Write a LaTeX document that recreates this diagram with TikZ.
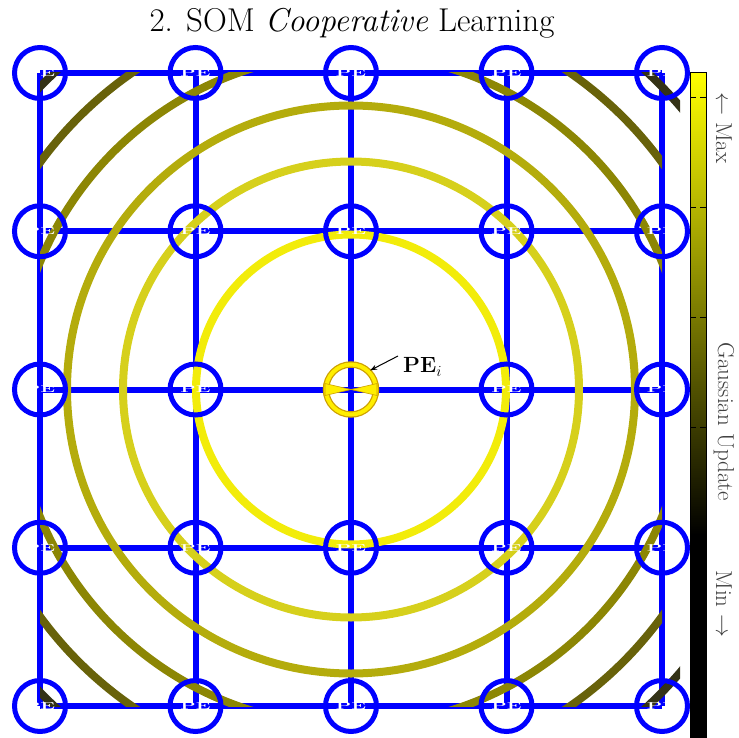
\RequirePackage{fix-cm}
\documentclass[tikz,border=0pt]{standalone}
\usetikzlibrary{arrows.meta}
\definecolor{gridblue}{RGB}{0,0,255}
\definecolor{ringA}{RGB}{242,236,10}
\definecolor{ringB}{RGB}{214,208,28}
\definecolor{ringC}{RGB}{180,172,12}
\definecolor{ringD}{RGB}{140,134,4}
\definecolor{ringE}{RGB}{104,98,10}
\definecolor{ringF}{RGB}{52,50,22}
\definecolor{peyellow}{RGB}{255,238,0}
\definecolor{pegold}{RGB}{205,160,0}
\begin{document}
\begin{tikzpicture}[x=1pt,y=-1pt,
  gridline/.style={draw=gridblue,line width=6pt},
  pecircle/.style={circle,draw=gridblue,line width=5pt,minimum size=51pt,inner sep=0pt},
  petext/.style={text=white,font=\bfseries\fontsize{20}{20}\selectfont,yscale=0.5,inner sep=0pt},
  ring/.style={line width=8pt},
  cblabel/.style={rotate=-90,font=\fontsize{23}{25}\selectfont,text=black!75,inner sep=0pt}]
\useasboundingbox (0,0) rectangle (739,738);
% title
\node[anchor=base,font=\fontsize{33}{36}\selectfont,inner sep=0pt] (title) at (352,32) {2. SOM \textit{Cooperative} Learning};
% grid coordinates
\foreach \xx [count=\i] in {40,195.5,351,506.5,662}{
  \foreach \yy [count=\j] in {73,231.25,389.5,547.75,706}{
    \coordinate (p-\i-\j) at (\xx,\yy);
  }
}
% grid lines
\foreach \k in {1,...,5}{
  \draw[gridline] (p-1-\k) -- (p-5-\k);
  \draw[gridline] (p-\k-1) -- (p-\k-5);
}
% Gaussian neighbourhood rings
\begin{scope}
  \clip (40,73) rectangle (680,706);
  \draw[ring,ringF] (p-3-3) circle[radius=434];
\end{scope}
\begin{scope}
  \clip (40,73) rectangle (662,706);
  \draw[ring,ringE] (p-3-3) circle[radius=385];
  \draw[ring,ringD] (p-3-3) circle[radius=336];
  \draw[ring,ringC] (p-3-3) circle[radius=284];
  \draw[ring,ringB] (p-3-3) circle[radius=228];
  \draw[ring,ringA] (p-3-3) circle[radius=155];
\end{scope}
% processing elements
\foreach \i in {1,...,5}{
  \foreach \j in {1,...,5}{
    \ifnum\i=3 \ifnum\j=3 \else
      \node[pecircle] (n-\i-\j) at (p-\i-\j) {};
      \node[petext] (t-\i-\j) at (p-\i-\j) {PE};
    \fi \else
      \node[pecircle] (n-\i-\j) at (p-\i-\j) {};
      \node[petext] (t-\i-\j) at (p-\i-\j) {PE};
    \fi
  }
}
% winning PE
\node[circle,draw=pegold,line width=6.5pt,minimum size=50pt,inner sep=0pt] (win) at (p-3-3) {};
\node[circle,draw=peyellow,line width=4pt,minimum size=50pt,inner sep=0pt] (win2) at (p-3-3) {};
\fill[peyellow,draw=pegold,line width=0.6pt] (325,383.5) -- (351,389.5) -- (325,395.5) -- cycle;
\fill[peyellow,draw=pegold,line width=0.6pt] (377,383.5) -- (351,389.5) -- (377,395.5) -- cycle;
\node[font=\fontsize{22}{24}\selectfont,anchor=west,inner sep=0pt] (lab) at (403,367) {$\mathbf{PE}_i$};
\coordinate (arrs) at (398,356);
\draw[-{Stealth[length=7pt,width=5pt]},line width=1pt] (arrs) -- (win2.north east);
% colorbar
\shade[top color=yellow,bottom color=black] (690,73) rectangle (706,535);
\fill[black] (690,534) rectangle (706,738);
\draw[black,line width=1pt] (690,73) rectangle (706,738);
\foreach \ty in {98,208,317,427,537,647}{
  \draw[black,line width=1pt] (690,\ty) -- (696,\ty);
  \draw[black,line width=1pt] (700,\ty) -- (706,\ty);
}
\node[cblabel] (cmax) at (724,128) {$\leftarrow$ Max};
\node[cblabel] (cgau) at (724,422) {Gaussian Update};
\node[cblabel] (cmin) at (724,604) {Min $\rightarrow$};
\end{tikzpicture}
\end{document}
